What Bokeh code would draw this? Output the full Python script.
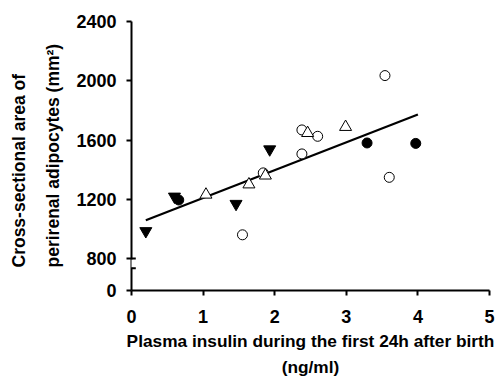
from bokeh.plotting import figure
from bokeh.models import Range1d, FixedTicker, Arrow, Title
from bokeh.embed import file_html
from bokeh.resources import INLINE

# ---- data ----
filled_tri_x = [0.20, 0.60, 1.46, 1.93]
filled_tri_y = [985, 1218, 1169, 1537]

filled_circ_x = [0.66, 3.29, 3.97]
filled_circ_y = [1195, 1580, 1577]

open_circ_x = [1.55, 1.84, 2.38, 2.38, 2.60, 3.54, 3.60]
open_circ_y = [960, 1378, 1668, 1506, 1625, 2035, 1348]

open_tri_x = [1.04, 1.64, 1.87, 2.46, 2.99]
open_tri_y = [1231, 1300, 1360, 1647, 1688]

fit_x = [0.2, 4.0]
fit_intercept = 1020
fit_slope = 188
fit_y = [fit_intercept + fit_slope * v for v in fit_x]

x_ticks = [0, 1, 2, 3, 4, 5]
# broken axis: the "0" tick is drawn just below the break
ZERO_POS = 584
y_ticks = [ZERO_POS, 800, 1200, 1600, 2000, 2400]
y_tick_labels = {ZERO_POS: "0"}
BREAK_LOW = 735
BREAK_HIGH = 800

x_label_lines = ["Plasma insulin during the first 24h after birth", "(ng/ml)"]
y_label_lines = ["Cross-sectional area of", "perirenal adipocytes (mm²)"]

FONT = "Liberation Sans"

p = figure(width=499, height=377, output_backend="svg", toolbar_location=None,
           x_range=Range1d(0, 5), y_range=Range1d(ZERO_POS, 2400),
           min_border_left=131, min_border_right=10, min_border_top=21,
           min_border_bottom=87)
p.outline_line_color = None
p.xgrid.grid_line_color = None
p.ygrid.grid_line_color = None
p.background_fill_color = "white"
p.border_fill_color = "white"

for ax in (p.xaxis[0], p.yaxis[0]):
    ax.axis_line_width = 2
    ax.axis_line_color = "black"
    ax.major_tick_line_width = 2
    ax.major_tick_line_color = "black"
    ax.major_tick_out = 5
    ax.major_tick_in = 0
    ax.minor_tick_line_color = None
    ax.major_label_text_font = FONT
    ax.major_label_text_font_style = "bold"
    ax.major_label_text_font_size = "18px"
    ax.major_label_text_color = "black"
    ax.major_label_standoff = 10

p.xaxis[0].ticker = FixedTicker(ticks=x_ticks)
p.yaxis[0].ticker = FixedTicker(ticks=y_ticks)
p.yaxis[0].major_label_overrides = y_tick_labels
p.xaxis[0].major_label_standoff = 14

# regression line
p.line(fit_x, fit_y, line_color="black", line_width=2.2)

# markers
p.scatter(open_circ_x, open_circ_y, marker="circle", size=10,
          fill_color="white", line_color="black", line_width=1)
p.scatter(open_tri_x, open_tri_y, marker="triangle", size=12,
          fill_color="white", line_color="black", line_width=1)
p.scatter(filled_circ_x, filled_circ_y, marker="circle", size=10,
          fill_color="black", line_color="black")
p.scatter(filled_tri_x, filled_tri_y, marker="inverted_triangle", size=12,
          fill_color="black", line_color="black")

# axis break
p.add_layout(Arrow(end=None, x_start=0, y_start=BREAK_LOW + 4,
                   x_end=0, y_end=BREAK_HIGH - 7,
                   line_color="white", line_width=7))
for yb in (BREAK_LOW, BREAK_HIGH):
    p.add_layout(Arrow(end=None, x_start=-0.06, y_start=yb, x_end=0.06,
                       y_end=yb, line_color="black", line_width=2))

# axis labels as titles in the side panels
ykw = dict(text_font=FONT, text_font_style="bold", text_font_size="17.5px",
           text_color="black")
xkw = dict(text_font=FONT, text_font_style="bold", text_font_size="17.3px",
           text_color="black")
p.add_layout(Title(text=y_label_lines[1], align="left", offset=23,
                   standoff=21, **ykw), "left")
p.add_layout(Title(text=y_label_lines[0], align="left", offset=23,
                   standoff=4, **ykw), "left")
p.add_layout(Title(text=x_label_lines[0], align="center", offset=-3,
                   standoff=6, **xkw), "below")
p.add_layout(Title(text=x_label_lines[1], align="center",
                   standoff=2, **xkw), "below")

open("out.html", "w").write(file_html(p, INLINE))
